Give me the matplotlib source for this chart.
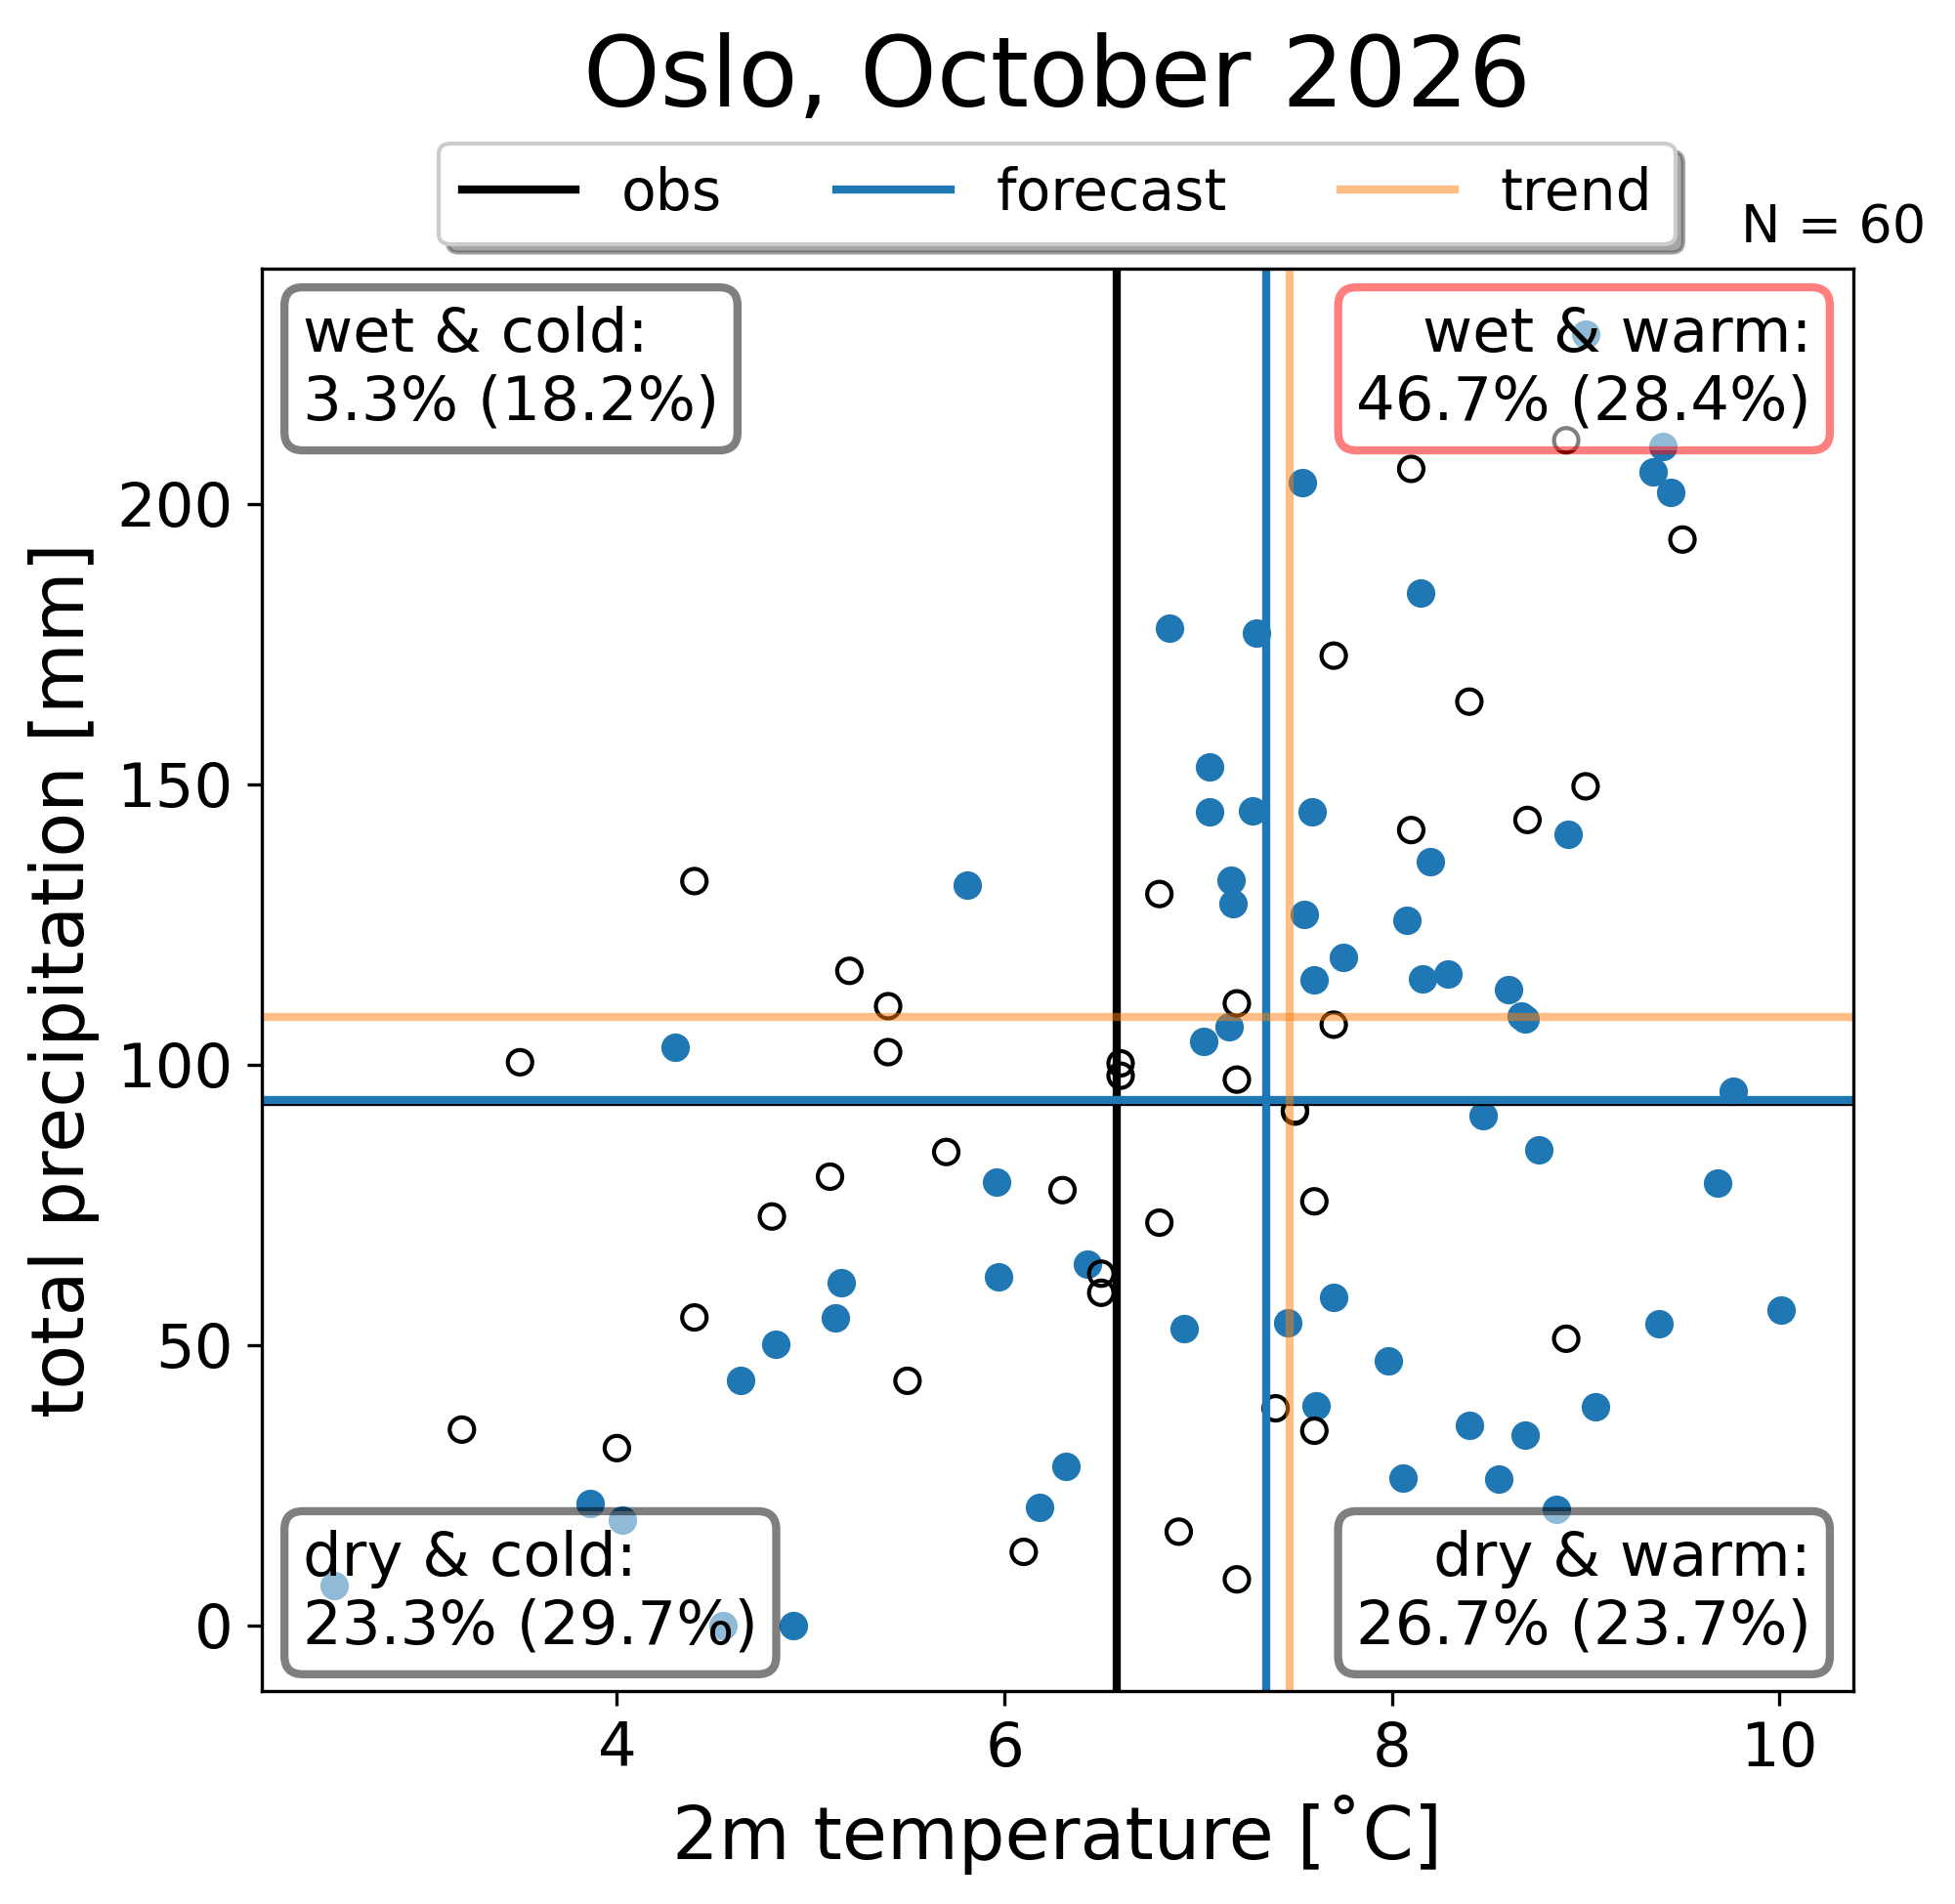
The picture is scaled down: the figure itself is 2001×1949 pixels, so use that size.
import matplotlib
matplotlib.use("Agg")
import matplotlib.pyplot as plt
from matplotlib.lines import Line2D

# ---------------- data ----------------
fc_temp = [6.85, 7.30, 7.54, 8.15, 9.35, 9.40, 9.44, 9.00, 7.06, 7.06,
           7.28, 7.59, 8.20, 8.91, 7.17, 7.18, 5.81, 7.55, 8.08, 7.75,
           7.60, 8.16, 8.29, 8.60, 8.67, 8.69, 7.16, 7.03, 4.30, 9.76,
           8.47, 8.76, 5.96, 9.68, 6.43, 5.97, 5.16, 5.13, 7.46, 7.70,
           6.93, 9.38, 10.01, 4.82, 7.98, 4.64, 7.61, 9.05, 8.40, 8.69,
           6.32, 8.06, 8.55, 6.18, 3.86, 4.03, 8.85, 2.54, 4.55, 4.91]
fc_precip = [177.8, 176.9, 203.8, 184.0, 205.6, 210.2, 202.0, 230.2, 153.1, 145.1,
             145.3, 145.1, 136.2, 141.1, 132.9, 128.7, 132.0, 126.7, 125.8, 119.1,
             115.1, 115.3, 116.2, 113.3, 108.7, 108.2, 106.7, 104.2, 103.1, 95.3,
             90.9, 84.7, 79.1, 78.9, 64.4, 62.2, 61.1, 54.9, 54.0, 58.4,
             52.9, 53.8, 56.2, 50.2, 47.1, 43.6, 39.1, 38.9, 35.6, 34.0,
             28.4, 26.2, 26.0, 21.1, 21.8, 18.7, 20.7, 7.1, 0.0, 0.0]

obs_temp = [8.9, 8.1, 9.5, 7.7, 8.4, 9.0, 8.7, 8.1, 4.4, 6.8,
            5.2, 5.4, 7.2, 7.7, 5.4, 3.5, 6.6, 6.6, 7.2, 7.5,
            7.5, 5.7, 5.1, 6.3, 4.8, 6.8, 7.6, 6.5, 6.5, 4.4,
            8.9, 5.5, 3.2, 4.0, 7.4, 7.6, 6.9, 6.1, 7.2]
obs_precip = [211.3, 206.2, 193.6, 172.9, 164.7, 149.6, 143.6, 141.8, 132.7, 130.4,
              116.7, 110.4, 110.9, 107.1, 102.2, 100.4, 100.2, 98.0, 97.3, 91.8,
              91.6, 84.4, 80.0, 77.6, 72.9, 71.8, 75.6, 62.7, 59.3, 54.9,
              51.1, 43.6, 34.9, 31.6, 38.7, 34.7, 16.7, 13.1, 8.2]

# reference lines: (temperature, precipitation)
obs_ref = (6.58, 93.4)
fc_ref = (7.35, 93.6)
trend_ref = (7.47, 108.5)

series_names = ["obs", "forecast", "trend"]
series_colors = ["black", "tab:blue", "tab:orange"]
series_alpha = [1.0, 1.0, 0.5]

quad_labels = ["wet & cold:\n3.3% (18.2%)", "wet & warm:\n46.7% (28.4%)",
               "dry & cold:\n23.3% (29.7%)", "dry & warm:\n26.7% (23.7%)"]
quad_edge = ["black", "red", "black", "black"]

title = "Oslo, October 2026"
n_text = "N = 60"

# ---------------- figure ----------------
fig = plt.figure(figsize=(2001 / 300, 1949 / 300), dpi=300)
ax = fig.add_axes([0.1337, 0.1116, 0.9478 - 0.1337, 0.8589 - 0.1116])

ax.scatter(fc_temp, fc_precip, s=36, color="tab:blue", zorder=1)
ax.scatter(obs_temp, obs_precip, s=36, facecolors="none", edgecolors="black",
           linewidths=1.0, zorder=1)

refs = [obs_ref, fc_ref, trend_ref]
handles = []
for (t, p), name, c, a in zip(refs, series_names, series_colors, series_alpha):
    ax.axvline(t, color=c, alpha=a, lw=2)
    ax.axhline(p, color=c, alpha=a, lw=2)
    handles.append(Line2D([], [], color=c, alpha=a, lw=2, label=name))

ax.set_xlim(2.165, 10.38)
ax.set_ylim(-11.8, 241.9)
ax.set_xticks([4, 6, 8, 10])
ax.set_yticks([0, 50, 100, 150, 200])
ax.tick_params(labelsize=15)
ax.set_xlabel("2m temperature [˚C]", fontsize=18)
ax.set_ylabel("total precipitation [mm]", fontsize=18)

pos = [(0.026, 0.974, "left", "top"), (0.974, 0.974, "right", "top"),
       (0.026, 0.025, "left", "bottom"), (0.974, 0.025, "right", "bottom")]
for (x, y, ha, va), lab, ec in zip(pos, quad_labels, quad_edge):
    ax.text(x, y, lab, transform=ax.transAxes, ha=ha, va=va, ma=ha,
            fontsize=15, zorder=3,
            bbox=dict(boxstyle="round", facecolor="white", edgecolor=ec,
                      alpha=0.5, lw=2))

ax.legend(handles=handles, loc="lower center", bbox_to_anchor=(0.5, 0.997),
          ncol=3, fontsize=14, shadow=True)

ax.text(1.046, 1.011, n_text, transform=ax.transAxes, ha="right", va="bottom",
        fontsize=13)

fig.text(0.5408, 0.9443, title, ha="center", va="baseline", fontsize=24)

fig.savefig("out.png", dpi=300)
